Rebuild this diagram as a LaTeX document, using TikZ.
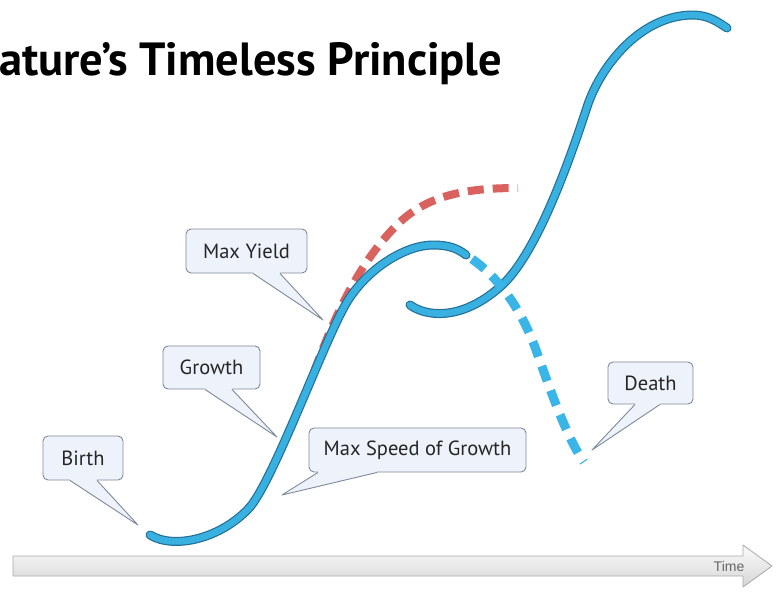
\documentclass[tikz,border=0pt]{standalone}
\usepackage{fontspec}
\setmainfont{PT Sans}
\newfontfamily\axisfont{Liberation Sans}
\usetikzlibrary{calc}
\definecolor{curveblue}{HTML}{38B0E0}
\definecolor{curveedge}{HTML}{22709A}
\definecolor{dashblue}{HTML}{3AB5E8}
\definecolor{dashred}{HTML}{D9625E}
\definecolor{callfill}{HTML}{EEF2FB}
\definecolor{calledge}{HTML}{7E8A9A}
\definecolor{axisedge}{HTML}{A9A9A9}
\definecolor{axistop}{HTML}{FBFBFB}
\definecolor{axisbot}{HTML}{D6D6D6}
\tikzset{
  every picture/.style={line join=round},
  callout/.style={draw=calledge,fill=callfill,rounded corners=5pt,line width=0.9pt,inner sep=0pt,
    font=\fontsize{20.5}{24}\selectfont,text=black!85},
  tail/.style={draw=calledge,line width=0.9pt},
  sedge/.style={draw=curveedge,line width=9pt,line cap=round},
  sbody/.style={draw=curveblue,line width=6.6pt,line cap=round},
  reddash/.style={draw=dashred,line width=8pt,dash pattern=on 16pt off 9pt},
  bluedash/.style={draw=dashblue,line width=9pt,dash pattern=on 16pt off 10pt},
}

\begin{document}
\begin{tikzpicture}[x=1pt,y=-1pt]
  \useasboundingbox[fill=white] (0,0) rectangle (776,592);
  \node[anchor=base west,inner sep=0,font=\fontsize{46.5}{50}\selectfont\bfseries] (title) at (-1,75) {ature’s Timeless Principle};
  % time axis
  \shade[top color=axistop,bottom color=axisbot,draw=axisedge,line width=0.8pt]
    (13,556) -- (743,556) -- (743,545) -- (772,566) -- (743,587) -- (743,576) -- (13,576) -- cycle;
  \node[font=\axisfont\fontsize{14}{16}\selectfont,text=black!60] (time) at (729,566) {Time};
  % curves
  \draw[reddash] (314,372) .. controls (335,315) and (360,260) .. (400,222)
    .. controls (430,194) and (470,188) .. (518,188);
  \foreach \s in {sedge,sbody}{
    \draw[\s] (150,535) .. controls (175,550) and (222,538) .. (250,507)
      .. controls (275,477) and (325,338) .. (347,302)
      .. controls (367,269) and (405,245) .. (433,245)
      .. controls (450,245) and (458,249) .. (466,255);
    \draw[\s] (410,305) .. controls (425,316) and (460,322) .. (500,287)
      .. controls (530,261) and (560,190) .. (587,107)
      .. controls (600,67) and (640,15) .. (693,15)
      .. controls (708,15) and (718,22) .. (727,28);
  }
  \draw[bluedash] (472,259) .. controls (495,275) and (520,305) .. (536,350)
    .. controls (552,395) and (568,440) .. (584,462);
  % callouts
  \node[callout,minimum width=80pt,minimum height=44pt] (birth) at (83,458) {Birth};
  \node[callout,minimum width=97pt,minimum height=43pt] (growth) at (211.5,367.5) {Growth};
  \node[callout,minimum width=121pt,minimum height=44pt] (yield) at (246.5,251) {Max Yield};
  \node[callout,minimum width=217pt,minimum height=44pt] (speed) at (417.5,450) {Max Speed of Growth};
  \node[callout,minimum width=85pt,minimum height=42pt] (death) at (650.5,383) {Death};
  \coordinate (birth-tip) at (138,525);
  \coordinate (growth-tip) at (277,437);
  \coordinate (yield-tip) at (323,320);
  \coordinate (speed-tip) at (282,495);
  \coordinate (death-tip) at (592,450);
  \foreach \n/\a/\b in {birth/70/97,growth/205/232,yield/253/280,speed/318/377,death/635/660}{
    \fill[callfill] ($(\a,0 |- \n.south)+(0,-2)$) -- (\a,0 |- \n.south) -- (\n-tip) -- (\b,0 |- \n.south) -- ($(\b,0 |- \n.south)+(0,-2)$) -- cycle;
    \draw[tail] (\a,0 |- \n.south) -- (\n-tip) -- (\b,0 |- \n.south);
  }
\end{tikzpicture}
\end{document}
